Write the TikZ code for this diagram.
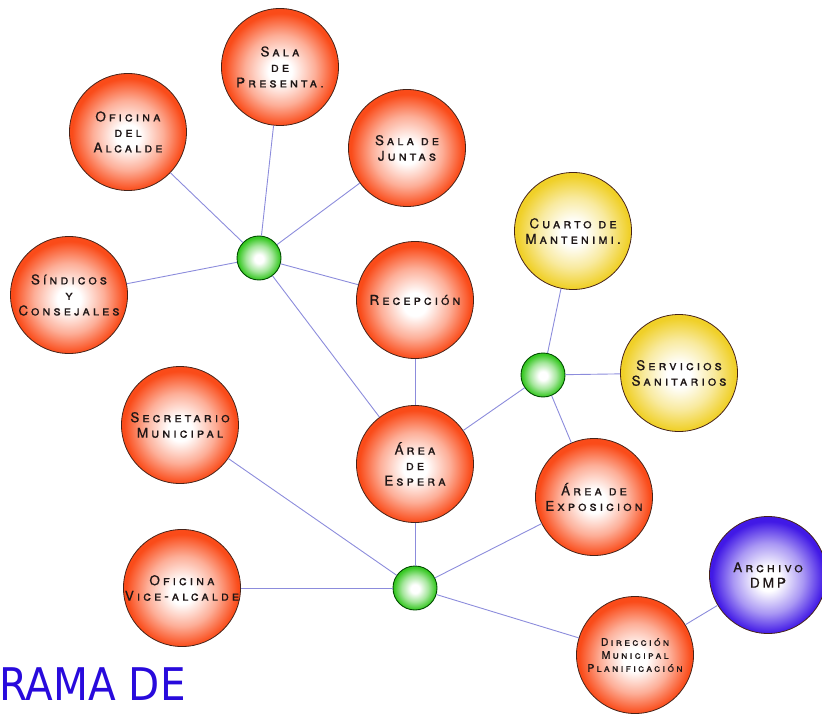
\documentclass[tikz,border=0pt]{standalone}
\usepackage{fontspec}
\setmainfont{TeX Gyre Heros}
\newfontfamily\roomfont[Letters=SmallCaps,LetterSpace=22,FakeBold=0.6]{TeX Gyre Heros}
\newfontfamily\titlefont{DejaVu Sans}
\definecolor{roomred}{RGB}{250, 75, 25}
\definecolor{roomyellow}{RGB}{240, 208, 40}
\definecolor{roomblue}{RGB}{65, 25, 230}
\definecolor{hubgreen}{RGB}{55, 200, 35}
\definecolor{rimdark}{RGB}{70, 35, 25}
\definecolor{linkblue}{RGB}{140, 140, 220}
\definecolor{titleblue}{RGB}{40, 10, 220}
\definecolor{labeldark}{RGB}{30, 22, 22}

\pgfdeclareradialshading{redball}{\pgfpoint{0bp}{-2bp}}{color(0bp)=(white); color(5bp)=(white); color(15bp)=(roomred!45!white); color(24bp)=(roomred); color(50bp)=(roomred)}
\pgfdeclareradialshading{yellowball}{\pgfpoint{0bp}{-1bp}}{color(0bp)=(white); color(5bp)=(white); color(15bp)=(roomyellow!45!white); color(24bp)=(roomyellow); color(50bp)=(roomyellow)}
\pgfdeclareradialshading{blueball}{\pgfpoint{0bp}{-2bp}}{color(0bp)=(white); color(5bp)=(white); color(15bp)=(roomblue!45!white); color(24bp)=(roomblue); color(50bp)=(roomblue)}
\pgfdeclareradialshading{greenball}{\pgfpoint{0bp}{-1bp}}{color(0bp)=(white); color(5bp)=(white); color(15bp)=(hubgreen!45!white); color(24bp)=(hubgreen); color(50bp)=(hubgreen)}

\begin{document}
\begin{tikzpicture}[x=1pt, y=-1pt,
    room/.style={circle, draw=rimdark, line width=0.8pt, minimum size=117pt, inner sep=0pt,
        shading=redball, align=center, text=labeldark, font=\roomfont\fontsize{13.5}{15.5}\selectfont},
    service/.style={room, shading=yellowball},
    archive/.style={room, shading=blueball},
    hub/.style={circle, draw=green!30!black, line width=0.9pt, minimum size=44pt, inner sep=0pt, shading=greenball},
    link/.style={draw=linkblue, line width=0.9pt}]
    \useasboundingbox (0,0) rectangle (822,714);

    % upper group
    \node[room] (presenta) at (280, 67) {Sala\\de\\Presenta.};
    \node[room] (alcalde) at (128, 132) {Oficina\\del\\Alcalde};
    \node[room] (juntas) at (407, 148) {Sala de\\Juntas};
    \node[room] (sindicos) at (69, 295) {Síndicos\\y\\Consejales};
    \node[room] (recepcion) at (415, 300) {Recepción};
    \node[hub] (hubtop) at (259, 258) {};

    % right group
    \node[service] (mantenim) at (573, 231) {Cuarto de\\Mantenimi.};
    \node[service] (sanitarios) at (679, 373) {Servicios\\Sanitarios};
    \node[hub] (hubright) at (543, 375) {};
    \node[room] (exposicion) at (594, 497) {Área de\\Exposicion};

    % lower group
    \node[room] (secretario) at (180, 425) {Secretario\\Municipal};
    \node[room] (espera) at (415, 464) {Área\\de\\Espera};
    \node[room] (vicealc) at (182, 588) {Oficina\\Vice-alcalde};
    \node[hub] (hubbottom) at (415, 588) {};
    \node[room, font=\roomfont\fontsize{10.5}{13}\selectfont] (direccion) at (635, 655) {Dirección\\Municipal\\Planificación};
    \node[archive] (archivo) at (768, 575) {Archivo\\DMP};

    % links
    \draw[link] (hubtop) -- (presenta);
    \draw[link] (hubtop) -- (alcalde);
    \draw[link] (hubtop) -- (juntas);
    \draw[link] (hubtop) -- (sindicos);
    \draw[link] (hubtop) -- (recepcion);
    \draw[link] (hubtop) -- (espera);
    \draw[link] (recepcion) -- (espera);
    \draw[link] (espera) -- (hubright);
    \draw[link] (hubright) -- (mantenim);
    \draw[link] (hubright) -- (sanitarios);
    \draw[link] (hubright) -- (exposicion);
    \draw[link] (espera) -- (hubbottom);
    \draw[link] (hubbottom) -- (secretario);
    \draw[link] (hubbottom) -- (vicealc);
    \draw[link] (hubbottom) -- (exposicion);
    \draw[link] (hubbottom) -- (direccion);
    \draw[link] (direccion) -- (archivo);

    % title
    \node[anchor=base west, inner sep=0pt, text=titleblue, font=\titlefont\fontsize{45}{45}\selectfont] (title) at (-1, 700) {\scalebox{0.9}[1]{RAMA DE}};
\end{tikzpicture}
\end{document}
